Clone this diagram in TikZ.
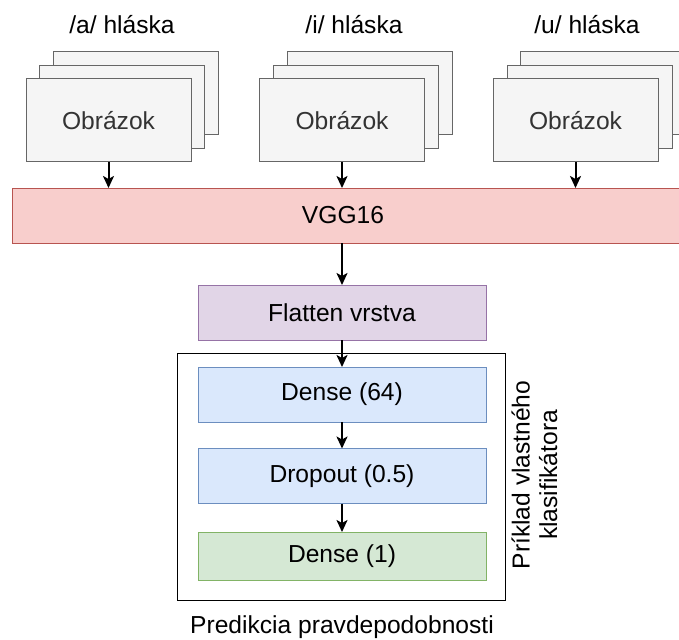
\documentclass[tikz,border=0pt]{standalone}
\usepackage{fontspec}
\setmainfont{Liberation Sans}
\usetikzlibrary{arrows.meta}
\definecolor{grayfill}{HTML}{F5F5F5}
\definecolor{graystroke}{HTML}{666666}
\definecolor{graytext}{HTML}{333333}
\definecolor{redfill}{HTML}{F8CECC}
\definecolor{redstroke}{HTML}{B85450}
\definecolor{purplefill}{HTML}{E1D5E7}
\definecolor{purplestroke}{HTML}{9673A6}
\definecolor{bluefill}{HTML}{DAE8FC}
\definecolor{bluestroke}{HTML}{6C8EBF}
\definecolor{greenfill}{HTML}{D5E8D4}
\definecolor{greenstroke}{HTML}{82B366}
\tikzset{
  base/.style={rectangle, inner sep=0pt, outer sep=0pt, line width=1pt,
    font=\fontsize{24.6}{29}\selectfont},
  imgbox/.style={base, fill=grayfill, draw=graystroke, text=graytext,
    minimum width=165pt, minimum height=83pt},
  vggbox/.style={base, fill=redfill, draw=redstroke, minimum height=55pt},
  flatbox/.style={base, fill=purplefill, draw=purplestroke, minimum width=288pt, minimum height=55pt},
  densebox/.style={base, fill=bluefill, draw=bluestroke, minimum width=288pt, minimum height=55pt},
  outbox/.style={base, fill=greenfill, draw=greenstroke, minimum width=288pt, minimum height=48pt},
  lbl/.style={inner sep=0pt, font=\fontsize{24.6}{27.5}\selectfont},
  arr/.style={line width=2pt, -{Stealth[length=12pt,width=11pt,inset=3pt]}},
}
\begin{document}
\begin{tikzpicture}[x=1pt,y=-1pt]
\useasboundingbox (0,0) rectangle (679,639);
\clip (0,0) rectangle (679,639);
% stacks /a/
\node[imgbox] (a3) at (135.5,93) {};
\node[imgbox] (a2) at (121.5,107) {};
\node[imgbox] (a1) at (108.5,120.5) {Obrázok};
\node[lbl] (ta) at (122,25) {/a/ hláska};
% stacks /i/
\node[imgbox] (i3) at (370,93) {};
\node[imgbox] (i2) at (356,107) {};
\node[imgbox] (i1) at (342,120.5) {Obrázok};
\node[lbl] (ti) at (354,25) {/i/ hláska};
% stacks /u/
\node[imgbox] (u3) at (602.5,93) {};
\node[imgbox] (u2) at (589.5,107) {};
\node[imgbox] (u1) at (575.5,120.5) {Obrázok};
\node[lbl] (tu) at (587,25) {/u/ hláska};
% VGG
\node[vggbox, minimum width=674pt] (vgg) at (349,215.5) {};
\node[lbl] (vggt) at (343,215.5) {VGG16};
% container
\node[base, draw=black, fill=none, minimum width=328pt, minimum height=247pt] (cont) at (341,476.5) {};
\node[flatbox] (flat) at (342,312.5) {Flatten vrstva};
\node[densebox] (d64) at (342,394.5) {Dense (64)};
\node[densebox] (drop) at (342,476) {Dropout (0.5)};
\node[outbox] (d1) at (342,556) {Dense (1)};
\node[lbl, rotate=90, align=center] (side) at (534.5,475) {Príklad vlastného\\klasifikátora};
\node[lbl] (pred) at (342,627) {Predikcia pravdepodobnosti};
% arrows
\draw[arr] (a1.south) -- (a1.south |- vgg.north);
\draw[arr] (i1.south) -- (i1.south |- vgg.north);
\draw[arr] (u1.south) -- (u1.south |- vgg.north);
\draw[arr] (vgg.south -| flat.north) -- (flat.north);
\draw[arr] (flat.south) -- (d64.north);
\draw[arr] (d64.south) -- (drop.north);
\draw[arr] (drop.south) -- (d1.north);
\end{tikzpicture}
\end{document}
